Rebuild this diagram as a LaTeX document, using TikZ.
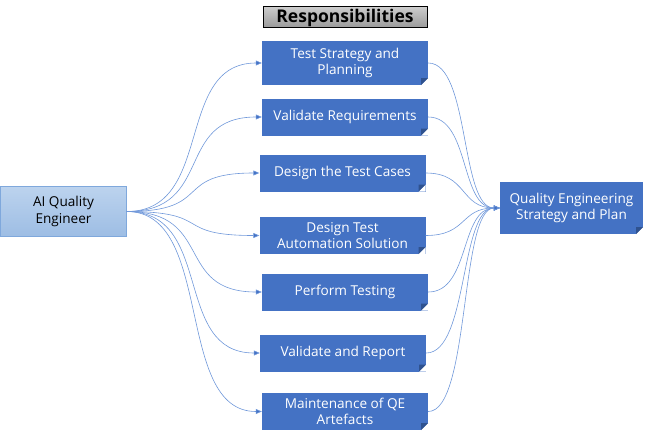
\documentclass[tikz,border=0pt]{standalone}
\usepackage{fontspec}
\setmainfont{Open Sans}
\usetikzlibrary{arrows.meta,calc}
\definecolor{boxblue}{HTML}{4472C4}
\definecolor{folddark}{HTML}{2F528F}
\definecolor{linkblue}{HTML}{7098DA}
\definecolor{lighttop}{HTML}{BCD3EE}
\definecolor{lightbot}{HTML}{9DBDE4}
\definecolor{lightedge}{HTML}{7FA8DC}
\begin{document}
\begin{tikzpicture}[x=1pt,y=-1pt,
  task/.style={fill=boxblue, text=white, align=center, inner sep=0pt,
    minimum width=166pt, minimum height=37pt,
    font=\fontsize{13.6}{16.5}\selectfont,
    path picture={
      \fill[white] (path picture bounding box.south east) -- ++(-7pt,0) -- ++(7pt,7pt) -- cycle;
      \fill[folddark] (path picture bounding box.south east) ++(-7pt,0) -- ++(7pt,7pt) -- ++(-7pt,0) -- cycle;
    }},
  link/.style={draw=linkblue, line width=0.6pt, -{Triangle[length=6pt,width=5pt,fill=boxblue]}},
  title/.style={draw=black, line width=1pt, top color=gray!40, bottom color=gray!80,
    minimum width=164pt, minimum height=21pt, inner sep=0pt,
    font=\fontsize{17.5}{20}\selectfont\bfseries}
]
\useasboundingbox (0,0) rectangle (650,436);

\node[title] (resp) at (345,17.5) {Responsibilities};

\node[draw=lightedge, line width=0.6pt, top color=lighttop, bottom color=lightbot,
  minimum width=126pt, minimum height=50pt, align=center, inner sep=0pt,
  font=\fontsize{13.6}{16.5}\selectfont] (ai) at (63.5,211.5) {AI Quality\\Engineer};

\node[task, minimum height=44pt] (b1) at (345,63) {Test Strategy and\\Planning};
\node[task] (b2) at (345,117) {Validate Requirements};
\node[task] (b3) at (342.5,173) {Design the Test Cases};
\node[task] (b4) at (342.5,235.5) {Design Test\\Automation Solution};
\node[task] (b5) at (345,292) {Perform Testing};
\node[task] (b6) at (343,353) {Validate and Report};
\node[task] (b7) at (345,411.5) {Maintenance of QE\\Artefacts};

\node[task, minimum width=143pt, minimum height=52pt] (qe) at (571.5,208) {Quality Engineering\\Strategy and Plan};

\foreach \b in {b1,b2,b3,b4,b5,b6,b7}{
  \draw[link] (ai.east) .. controls ++(88,0) and ($(\b.west)+(-88,0)$) .. (\b.west);
  \draw[link] (\b.east) .. controls ++(42,0) and ($(qe.west)+(-40,0)$) .. (qe.west);
}
\end{tikzpicture}
\end{document}
